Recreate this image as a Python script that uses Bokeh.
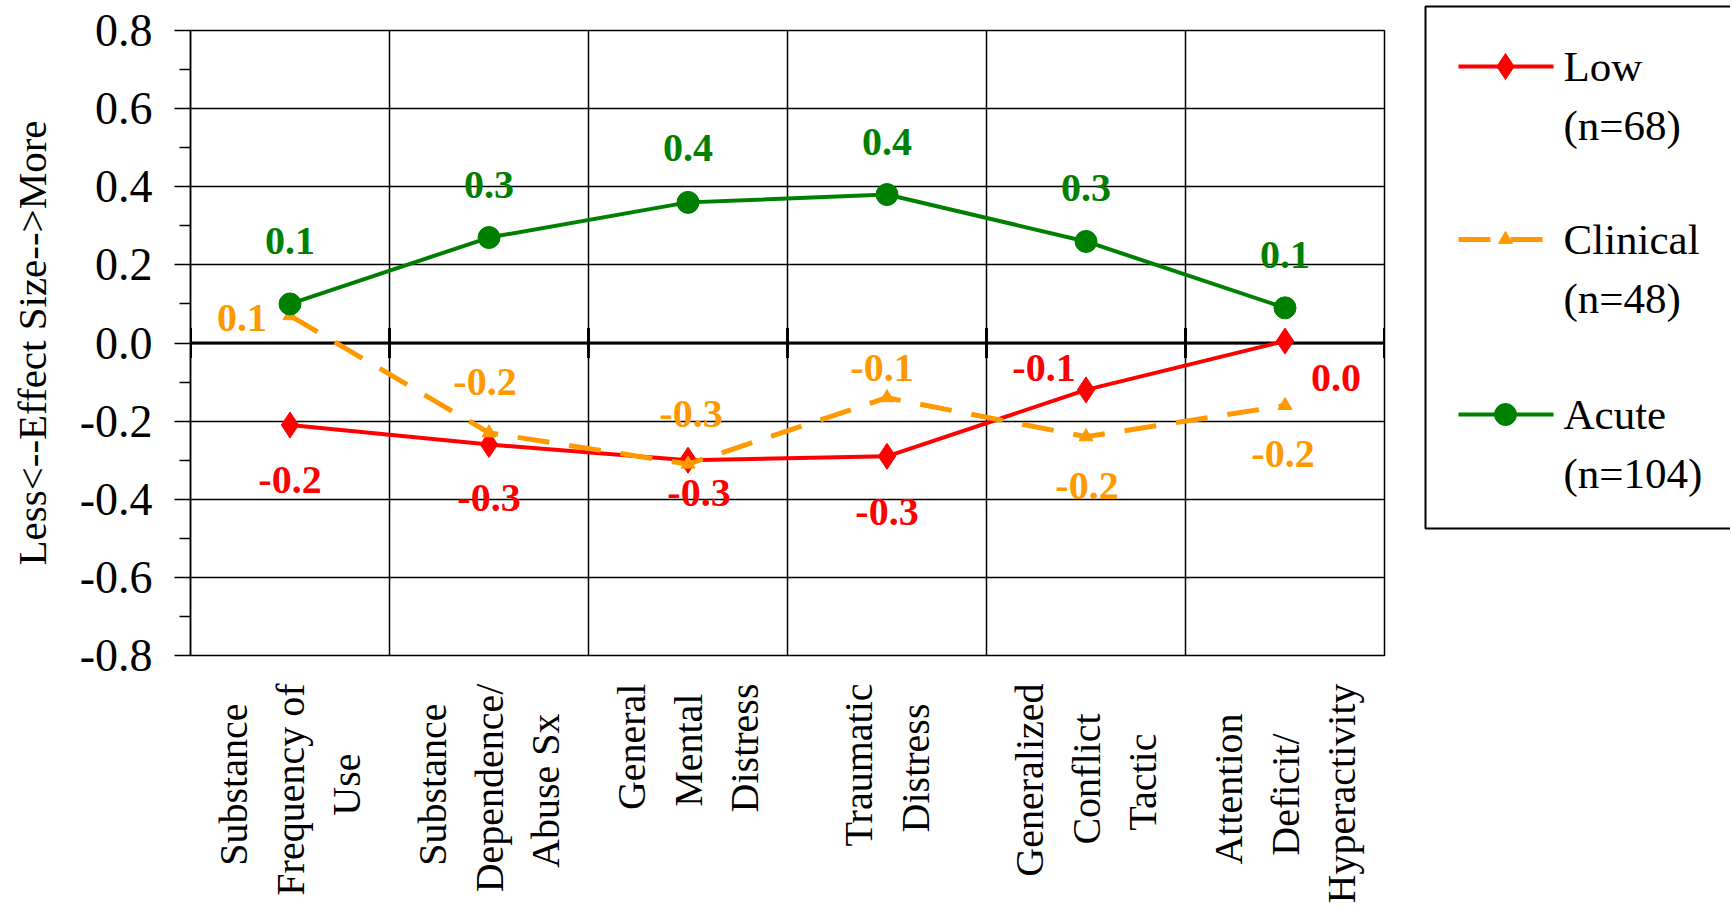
from math import pi
from bokeh.plotting import figure
from bokeh.models import Range1d, FixedTicker, NumeralTickFormatter, Span, LabelSet, ColumnDataSource
from bokeh.layouts import row
from bokeh.core.properties import value
from bokeh.embed import file_html
from bokeh.resources import INLINE

# ---------------- data ----------------
categories = ["Substance\nFrequency of\nUse",
              "Substance\nDependence/\nAbuse Sx",
              "General\nMental\nDistress",
              "Traumatic\nDistress",
              "Generalized\nConflict\nTactic",
              "Attention\nDeficit/\nHyperactivity"]
low = [-0.21, -0.26, -0.30, -0.29, -0.12, 0.005]
clinical = [0.07, -0.23, -0.31, -0.14, -0.24, -0.16]
acute = [0.10, 0.27, 0.36, 0.38, 0.26, 0.09]
series_names = ["Low", "Clinical", "Acute"]
series_n = ["(n=68)", "(n=48)", "(n=104)"]
y_ticks = [-0.8, -0.6, -0.4, -0.2, 0.0, 0.2, 0.4, 0.6, 0.8]
y_minor = [-0.7, -0.5, -0.3, -0.1, 0.1, 0.3, 0.5, 0.7]
y_title = "Less<--Effect Size-->More"

# ---------------- styles / label placement (screen px) ----------------
colors = ["#FF0000", "#FF9900", "#008000"]
low_off = [(0, -55), (0, -53), (11, -33), (0, -56), (-42, 22), (51, -37)]
clin_off = [(-48, -2), (-4, 51), (3, 50), (-5, 30), (1, -49), (-2, -48)]
acute_off = [(0, 63), (0, 53), (0, 54), (0, 53), (0, 53), (0, 53)]
FONT = "Liberation Serif"

# approximate Liberation Serif advance widths (1/1000 em), used to centre
# the lines of each rotated multi-line category label
CHAR_W = {" ": 250, "/": 278, "A": 722, "C": 667, "D": 722, "F": 556, "G": 722,
          "H": 722, "M": 889, "S": 556, "T": 611, "U": 722, "a": 444, "b": 500,
          "c": 444, "d": 500, "e": 444, "f": 333, "h": 500, "i": 278, "l": 278,
          "m": 778, "n": 500, "o": 500, "p": 500, "q": 500, "r": 333, "s": 389,
          "t": 278, "u": 500, "v": 500, "x": 500, "y": 500, "z": 444}
NBSP = "\u00a0"


def centred(label):
    lines = label.split("\n")
    ws = [sum(CHAR_W.get(c, 500) for c in l) for l in lines]
    mw = max(ws)
    return "\n".join(l + NBSP * int(round((mw - w) / 2 / 250)) for l, w in zip(lines, ws))


W, H = 1408, 918
B_LEFT, B_RIGHT, B_TOP, B_BOTTOM = 190, 24, 30, 263
Y0, Y1 = -0.8, 0.8

n_cat = len(categories)
xs = [i + 0.5 for i in range(n_cat)]
bounds = list(range(n_cat + 1))

p = figure(width=W, height=H, x_range=Range1d(0, n_cat), y_range=Range1d(Y0, Y1),
           toolbar_location=None, output_backend="svg",
           min_border_left=B_LEFT, min_border_right=B_RIGHT,
           min_border_top=B_TOP, min_border_bottom=B_BOTTOM)
p.background_fill_color = "white"
p.border_fill_color = "white"
p.outline_line_color = "black"
p.outline_line_width = 1.5

# x axis: category labels (rotated, multi-line)
xa = p.xaxis[0]
xa.ticker = FixedTicker(ticks=xs)
xa.major_label_overrides = {x: centred(lab) for x, lab in zip(xs, categories)}
xa.major_label_orientation = pi / 2
xa.major_label_text_font = FONT
xa.major_label_text_font_size = "40px"
xa.major_label_text_color = "black"
xa.major_label_text_line_height = 1.25
xa.major_label_standoff = 28
xa.major_tick_out = 0
xa.major_tick_in = 0
xa.minor_tick_out = 0
xa.minor_tick_in = 0
xa.axis_line_color = None

p.xgrid.ticker = FixedTicker(ticks=bounds[1:-1])
p.xgrid.grid_line_color = "black"
p.xgrid.grid_line_width = 1.5
p.ygrid.ticker = FixedTicker(ticks=y_ticks)
p.ygrid.grid_line_color = "black"
p.ygrid.grid_line_width = 1.5

ya = p.yaxis[0]
ya.ticker = FixedTicker(ticks=y_ticks, minor_ticks=y_minor)
ya.formatter = NumeralTickFormatter(format="0.0")
ya.major_label_text_font = FONT
ya.major_label_text_font_size = "46px"
ya.major_label_text_color = "black"
ya.major_tick_out = 16
ya.major_tick_in = 0
ya.minor_tick_out = 11
ya.minor_tick_in = 0
ya.major_tick_line_color = "black"
ya.minor_tick_line_color = "black"
ya.major_tick_line_width = 1.5
ya.minor_tick_line_width = 1.5
ya.axis_line_color = "black"
ya.axis_line_width = 1.5
ya.major_label_standoff = 22
ya.axis_label = y_title
ya.axis_label_text_font = FONT
ya.axis_label_text_font_size = "41px"
ya.axis_label_text_font_style = "normal"
ya.axis_label_text_color = "black"
ya.axis_label_standoff = 22

zero = Span(location=0, dimension="width", line_color="black", line_width=3, level="underlay")
p.add_layout(zero)
p.scatter(bounds, [0] * len(bounds), marker="dash", angle=pi / 2, size=30,
          line_color="black", line_width=3)

# series
p.line(xs, low, line_color=colors[0], line_width=4)
p.scatter(xs, low, marker="diamond", size=26, color=colors[0])
p.line(xs, clinical, line_color=colors[1], line_width=5, line_dash="32 20")
p.scatter(xs, clinical, marker="triangle", size=14, color=colors[1])
p.line(xs, acute, line_color=colors[2], line_width=4)
p.scatter(xs, acute, marker="circle", size=22, color=colors[2])

# data labels
for vals, offs, col in [(low, low_off, colors[0]), (clinical, clin_off, colors[1]), (acute, acute_off, colors[2])]:
    src = ColumnDataSource(dict(x=xs, y=vals, t=[f"{v:.1f}" for v in vals],
                                dx=[o[0] for o in offs], dy=[o[1] for o in offs]))
    p.add_layout(LabelSet(x="x", y="y", text="t", x_offset="dx", y_offset="dy", source=src,
                          text_font=value(FONT), text_font_size=value("40px"),
                          text_font_style="bold", text_color=col,
                          text_align="center", text_baseline="middle"))

# ---------------- legend panel ----------------
LW = 322
lg = figure(width=LW, height=H, x_range=Range1d(0, LW), y_range=Range1d(H, 0),
            x_axis_type=None, y_axis_type=None, toolbar_location=None, output_backend="svg",
            min_border=0)
lg.outline_line_color = None
lg.grid.visible = False
try:
    p.frame_align = False
    lg.frame_align = False
except Exception:
    pass
lg.quad(left=[17], right=[400], top=[6], bottom=[528], fill_color=None,
        line_color="black", line_width=2)
markers = ["diamond", "triangle", "circle"]
msizes = [26, 14, 22]
dashes = ["solid", "32 20", "solid"]
widths = [4, 5, 4]
ys = [66, 239, 414]
for k in range(3):
    y0 = ys[k]
    lg.line([50, 145], [y0, y0], line_color=colors[k], line_width=widths[k], line_dash=dashes[k])
    lg.scatter([97], [y0], marker=markers[k], size=msizes[k], color=colors[k])
    lg.text(x=[155, 155], y=[y0, y0 + 59], text=[series_names[k], series_n[k]],
            text_font=value(FONT), text_font_size=value("43px"), text_color="black",
            text_baseline="middle", text_align="left")

layout = row(p, lg)
open("out.html", "w").write(file_html(layout, INLINE))
